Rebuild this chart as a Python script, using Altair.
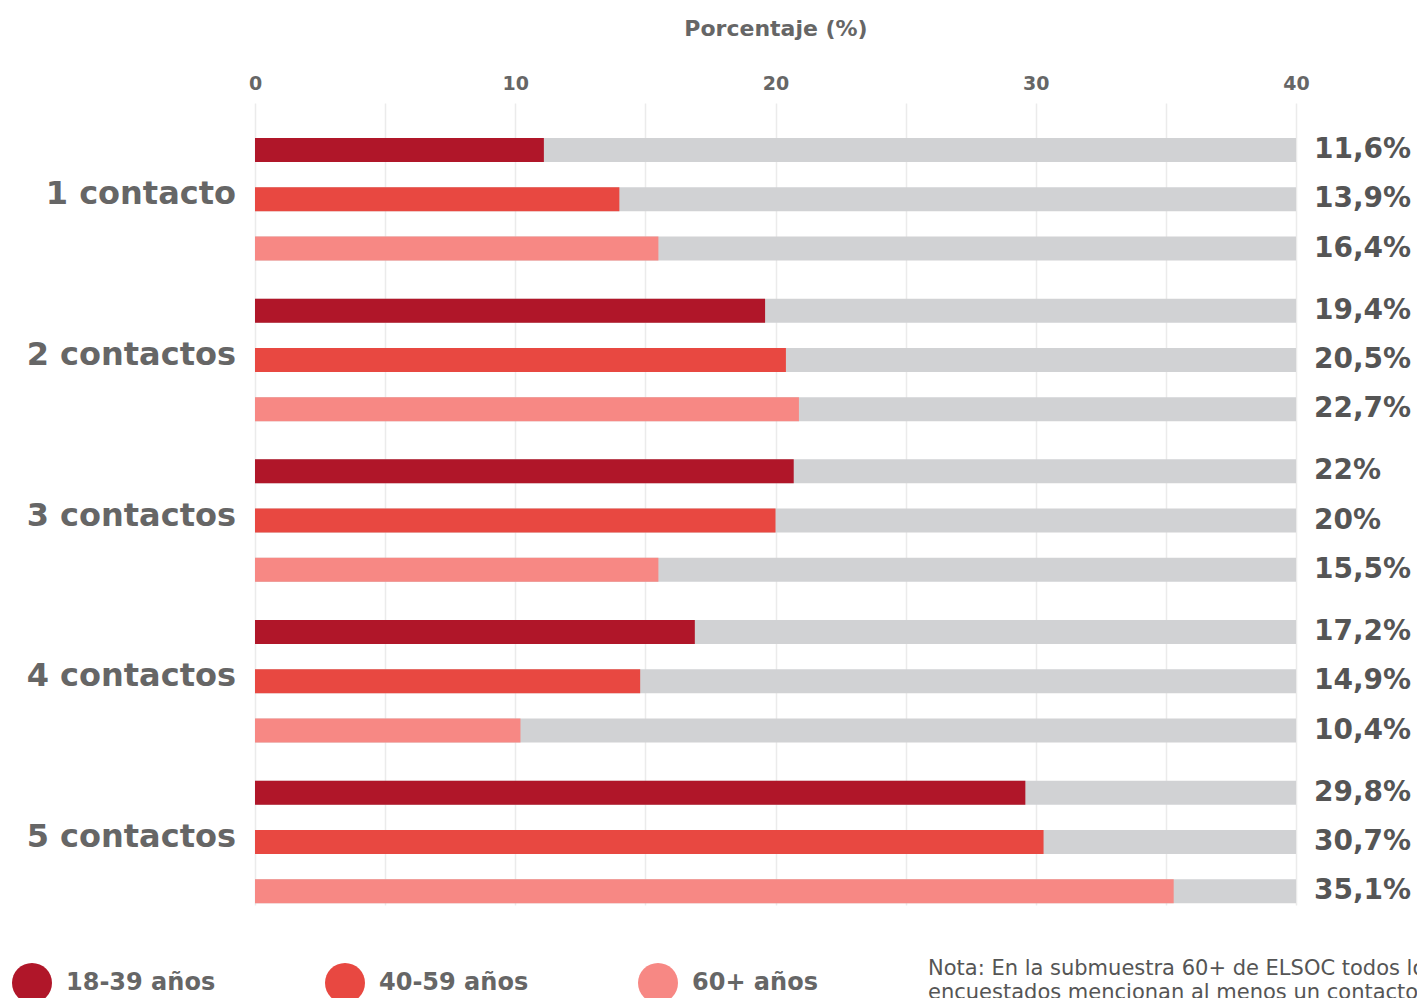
import altair as alt
import pandas as pd

# ---- data ----
groups = ["1 contacto", "2 contactos", "3 contactos", "4 contactos", "5 contactos"]
series = ["18-39 años", "40-59 años", "60+ años"]
colors = ["#B01629", "#E84841", "#F78884"]

# bar lengths as drawn (percent)
bar_18_39 = [11.1, 19.6, 20.7, 16.9, 29.6]
bar_40_59 = [14.0, 20.4, 20.0, 14.8, 30.3]
bar_60 = [15.5, 20.9, 15.5, 10.2, 35.3]

# printed labels
lab_18_39 = ["11,6%", "19,4%", "22%", "17,2%", "29,8%"]
lab_40_59 = ["13,9%", "20,5%", "20%", "14,9%", "30,7%"]
lab_60 = ["16,4%", "22,7%", "15,5%", "10,4%", "35,1%"]

x_ticks = [0, 5, 10, 15, 20, 25, 30, 35, 40]
NOTE_LINES = ["Nota: En la submuestra 60+ de ELSOC todos los",
              "encuestados mencionan al menos un contacto."]

FONT = "DejaVu Sans"
GROUP_PERIOD = 3.26  # group spacing in row units

rows = []
for g, grp in enumerate(groups):
    vals = [bar_18_39[g], bar_40_59[g], bar_60[g]]
    labs = [lab_18_39[g], lab_40_59[g], lab_60[g]]
    for i, s in enumerate(series):
        rows.append({"grupo": grp, "serie": s, "valor": vals[i],
                     "etiqueta": labs[i], "pos": g * GROUP_PERIOD + i})
df = pd.DataFrame(rows)
gdf = pd.DataFrame({"grupo": groups,
                    "pos": [g * GROUP_PERIOD + 1 for g in range(len(groups))]})
note_df = pd.DataFrame({"nota": [NOTE_LINES]})

W, H = 1041, 802
yscale = alt.Scale(domain=[-0.953, 15.32], reverse=True, nice=False, zero=False, padding=0)
xscale = alt.Scale(domain=[0, 40], nice=False, padding=0)

base = alt.Chart(df)

xaxis = alt.Axis(orient="top", values=x_ticks, grid=True, gridColor="#EBEBEB",
                 gridWidth=1.5, domain=False, ticks=False, labelFlush=False,
                 labelExpr="datum.value % 10 == 0 ? datum.label : ''",
                 labelFont=FONT, labelFontSize=19, labelFontWeight="bold",
                 labelColor="#666666", labelPadding=10,
                 title="Porcentaje (%)", titleFont=FONT, titleFontSize=22,
                 titleFontWeight="bold", titleColor="#666666", titlePadding=34)

background = base.mark_bar(orient="horizontal", size=24, color="#D1D2D4").encode(
    x=alt.datum(0, scale=xscale, axis=xaxis, type="quantitative"),
    x2=alt.datum(40),
    y=alt.Y("pos:Q", scale=yscale, axis=None),
)

bars = base.mark_bar(orient="horizontal", size=24).encode(
    x=alt.X("valor:Q", scale=xscale, axis=xaxis),
    x2=alt.datum(0),
    y=alt.Y("pos:Q", scale=yscale, axis=None),
    color=alt.Color("serie:N",
                    scale=alt.Scale(domain=series, range=colors),
                    legend=alt.Legend(orient="none", legendX=-243, legendY=860,
                                      direction="horizontal", title=None,
                                      symbolType="circle", symbolSize=1600,
                                      symbolStrokeWidth=0, symbolOpacity=1,
                                      labelFont=FONT, labelFontSize=24,
                                      labelFontWeight="bold", labelColor="#666666",
                                      labelOffset=14, columnPadding=109,
                                      labelLimit=400)),
)

values = base.mark_text(align="left", baseline="middle", font=FONT, fontSize=28,
                        fontWeight="bold", color="#555555").encode(
    x=alt.value(W + 18),
    y=alt.Y("pos:Q", scale=yscale, axis=None),
    text="etiqueta:N",
)

glabels = alt.Chart(gdf).mark_text(align="right", baseline="middle", font=FONT,
                                   fontSize=32, fontWeight="bold",
                                   color="#666666", dy=-5).encode(
    x=alt.value(-19),
    y=alt.Y("pos:Q", scale=yscale, axis=None),
    text="grupo:N",
)

note = alt.Chart(note_df).mark_text(align="left", baseline="top", font=FONT,
                                    fontSize=21, color="#555555",
                                    lineHeight=24).encode(
    x=alt.value(673),
    y=alt.value(855),
    text="nota",
)

chart = alt.layer(background, bars, values, glabels, note).properties(
    width=W, height=H,
    background="white",
    autosize=alt.AutoSizeParams(type="none"),
    padding={"left": 255, "top": 103, "right": 121, "bottom": 93},
).configure_view(stroke=None)

chart.save("out.html", embed_options={"renderer": "svg", "actions": False})
